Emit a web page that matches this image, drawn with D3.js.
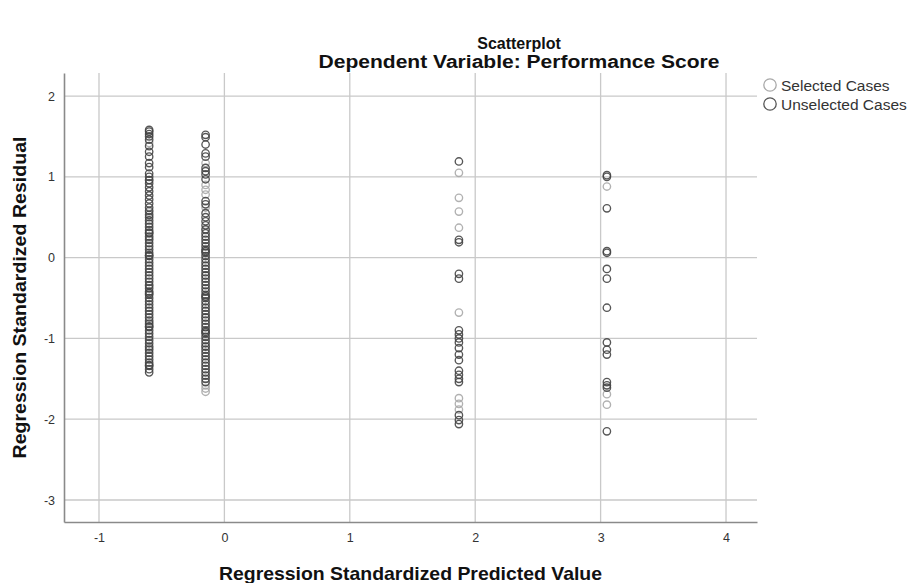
<!DOCTYPE html>
<html>
<head>
<meta charset="utf-8">
<script src="https://cdn.jsdelivr.net/npm/d3@7"></script>
<style>
  html, body { margin: 0; padding: 0; background: #fff; }
  svg { display: block; font-family: Arial, "Liberation Sans", sans-serif; }
</style>
</head>
<body>
<svg id="chart" width="913" height="583"></svg>
<script>
// Residuals vs. standardized predicted values, grouped by predicted-value column
const chartTitle = "Scatterplot";
const chartSubtitle = "Dependent Variable: Performance Score";
const xTitle = "Regression Standardized Predicted Value";
const yTitle = "Regression Standardized Residual";
const xTicks = [-1, 0, 1, 2, 3, 4];
const yTicks = [2, 1, 0, -1, -2, -3];
const seriesNames = ["Selected Cases", "Unselected Cases"];

// Predicted-value positions of the four columns
const predicted = [-0.60, -0.15, 1.87, 3.05];

// Residuals of unselected cases, one array per column
const unselected0 = [1.58, 1.56, 1.53, 1.50, 1.46, 1.38, 1.31, 1.25, 1.17, 1.04, 1.00, 0.96, 0.92,
  0.87, 0.82, 0.77, 0.72, 0.67, 0.62, 0.58, 0.53, 0.50, 0.46, 0.42, 0.38, 0.34, 0.30, 0.26, 0.22,
  0.18, 0.14, 0.10, 0.06, 0.02, -0.02, -0.06, -0.10, -0.14, -0.18, -0.22, -0.26, -0.30, -0.34,
  -0.38, -0.42, -0.46, -0.50, -0.54, -0.58, -0.62, -0.66, -0.70, -0.74, -0.78, -0.82, -0.86,
  -0.90, -0.94, -0.98, -1.02, -1.06, -1.10, -1.14, -1.18, -1.22, -1.26, -1.30, -1.34, -1.38, -1.42,
  1.12, 0.31, 0.03, -0.44, -0.85, -1.33];
const unselected1 = [1.52, 1.49, 1.40, 1.29, 1.25, 1.11, 1.07, 1.03, 0.97, 0.70, 0.66, 0.55, 0.50,
  0.45, 0.40, 0.35, 0.30, 0.26, 0.22, 0.18, 0.14, 0.10, 0.06, 0.02, -0.02, -0.06, -0.10, -0.14,
  -0.18, -0.22, -0.26, -0.30, -0.34, -0.38, -0.42, -0.46, -0.50, -0.54, -0.58, -0.62, -0.66,
  -0.70, -0.74, -0.78, -0.82, -0.86, -0.90, -0.94, -0.98, -1.02, -1.06, -1.10, -1.14, -1.18,
  -1.22, -1.26, -1.30, -1.34, -1.38, -1.42, -1.46, -1.50, -1.54, 0.08, -0.48, -0.92];
const unselected2 = [1.19, 0.22, 0.19, -0.20, -0.26, -0.90, -0.95, -1.00, -1.05, -1.12, -1.20,
  -1.27, -1.40, -1.45, -1.50, -1.54, -1.95, -2.01, -2.06];
const unselected3 = [1.02, 1.00, 0.61, 0.08, 0.06, -0.14, -0.26, -0.62, -1.05, -1.14, -1.20,
  -1.54, -1.58, -1.61, -2.15];

// Residuals of selected cases, one array per column
const selected0 = [1.42, 0.96, 0.56, 0.24, -0.35, -0.80, -1.12];
const selected1 = [1.17, 0.90, 0.84, 0.78, 0.62, 0.34, -0.22, -0.74, -1.10, -1.58, -1.62, -1.66];
const selected2 = [1.05, 0.74, 0.57, 0.37, -0.68, -1.74, -1.81, -1.88];
const selected3 = [0.88, -1.69, -1.82];

const unselectedCols = [unselected0, unselected1, unselected2, unselected3];
const selectedCols = [selected0, selected1, selected2, selected3];

const toPoints = cols => cols.flatMap((vals, i) => vals.map(v => ({ x: predicted[i], y: v })));
const selectedPts = toPoints(selectedCols);
const unselectedPts = toPoints(unselectedCols);

const svg = d3.select("#chart");
const plot = { left: 64, right: 757, top: 73, bottom: 522 };

const x = d3.scaleLinear().domain([-1.279, 4.247]).range([plot.left, plot.right]);
const y = d3.scaleLinear().domain([-3.272, 2.285]).range([plot.bottom, plot.top]);

const gridColor = "#c9c9c9";
const axisColor = "#8a8a8a";
const selColor = "#a9a9a9";
const unselColor = "#444";

// Gridlines
svg.append("g").selectAll("line").data(xTicks).join("line")
  .attr("x1", d => x(d)).attr("x2", d => x(d))
  .attr("y1", plot.top).attr("y2", plot.bottom)
  .attr("stroke", gridColor).attr("stroke-width", 1.3);
svg.append("g").selectAll("line").data(yTicks).join("line")
  .attr("x1", plot.left).attr("x2", plot.right)
  .attr("y1", d => y(d)).attr("y2", d => y(d))
  .attr("stroke", gridColor).attr("stroke-width", 1.3);

// Axes (plain hyphen for negative labels)
const fmt = d => String(d);
const xAxis = d3.axisBottom(x).tickValues(xTicks).tickSize(0).tickPadding(11).tickFormat(fmt);
const yAxis = d3.axisLeft(y).tickValues(yTicks).tickSize(0).tickPadding(9).tickFormat(fmt);

const gx = svg.append("g").attr("transform", `translate(0,${plot.bottom})`).call(xAxis);
const gy = svg.append("g").attr("transform", `translate(${plot.left},0)`).call(yAxis);
[gx, gy].forEach(g => {
  g.select(".domain").attr("stroke", axisColor).attr("stroke-width", 1.6);
  g.selectAll("text").attr("font-size", 12.5).attr("fill", "#333")
    .attr("font-family", "Arial, 'Liberation Sans', sans-serif");
});

// Points: selected first, unselected drawn on top
const drawPts = (pts, color) => svg.append("g").selectAll("circle").data(pts).join("circle")
  .attr("cx", d => x(d.x)).attr("cy", d => y(d.y)).attr("r", 3.7)
  .attr("fill", "none").attr("stroke", color).attr("stroke-width", 1.35).attr("stroke-opacity", 0.9);
drawPts(selectedPts, selColor);
drawPts(unselectedPts, unselColor);

// Titles
const titleX = 519;
svg.append("text").attr("x", titleX).attr("y", 49).attr("text-anchor", "middle")
  .attr("font-weight", "bold").attr("font-size", 16).attr("fill", "#111").text(chartTitle);
svg.append("text").attr("x", titleX).attr("y", 68).attr("text-anchor", "middle")
  .attr("font-weight", "bold").attr("font-size", 18).attr("fill", "#111")
  .attr("textLength", 401).attr("lengthAdjust", "spacingAndGlyphs").text(chartSubtitle);
const midX = (plot.left + plot.right) / 2;
svg.append("text").attr("x", midX).attr("y", 580).attr("text-anchor", "middle")
  .attr("font-weight", "bold").attr("font-size", 18.5).attr("fill", "#111")
  .attr("textLength", 383).attr("lengthAdjust", "spacingAndGlyphs").text(xTitle);
svg.append("text")
  .attr("transform", `translate(26,${(plot.top + plot.bottom) / 2}) rotate(-90)`)
  .attr("text-anchor", "middle").attr("font-weight", "bold").attr("font-size", 18)
  .attr("fill", "#111").attr("textLength", 322).attr("lengthAdjust", "spacingAndGlyphs")
  .text(yTitle);

// Legend
const legend = svg.append("g").attr("transform", "translate(770,85)");
const legendColors = [selColor, "#555"];
seriesNames.forEach((name, i) => {
  const g = legend.append("g").attr("transform", `translate(0,${i * 19})`);
  g.append("circle").attr("r", 6.2).attr("fill", "none")
    .attr("stroke", legendColors[i]).attr("stroke-width", 1.3);
  g.append("text").attr("x", 11).attr("y", 5.5).attr("font-size", 15.5).attr("fill", "#333").text(name);
});
</script>
</body>
</html>
